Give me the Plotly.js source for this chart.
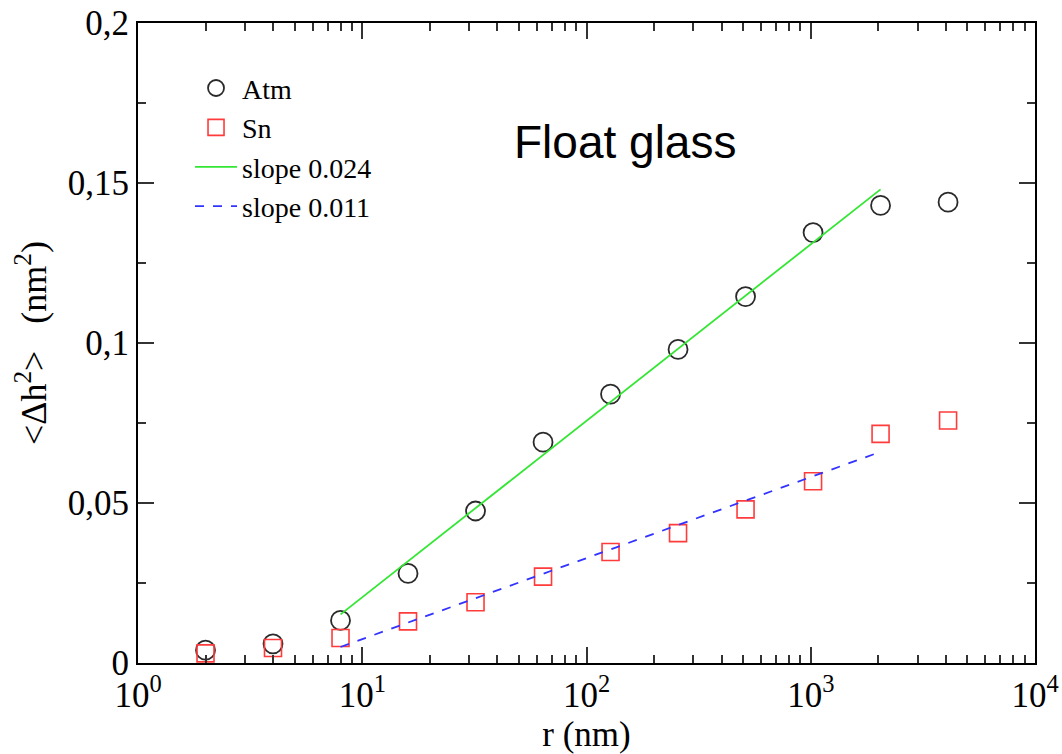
<!DOCTYPE html>
<html>
<head>
<meta charset="utf-8">
<script src="https://cdn.plot.ly/plotly-3.0.1.min.js"></script>
<style>html,body{margin:0;padding:0;background:#fff;}#chart{width:1062px;height:754px;}</style>
</head>
<body>
<div id="chart"></div>
<script>
// Data
const rValues = [2, 4, 8, 16, 32, 64, 128, 256, 512, 1024, 2048, 4096];
const atmValues = [0.004, 0.006, 0.0133, 0.028, 0.0475, 0.069, 0.084, 0.098, 0.1145, 0.1345, 0.143, 0.144];
const snValues = [0.003, 0.0047, 0.0078, 0.013, 0.019, 0.027, 0.0347, 0.0406, 0.048, 0.0568, 0.0716, 0.0758];
const fitR = [8, 2048];
const fitAtm = [0.0152, 0.148];
const fitSn = [0.005, 0.066];
const xTickVals = [1, 10, 100, 1000, 10000];
const xTickText = ['10<sup>0</sup>', '10<sup>1</sup>', '10<sup>2</sup>', '10<sup>3</sup>', '10<sup>4</sup>'];
const yTickVals = [0, 0.05, 0.1, 0.15, 0.2];
const yTickText = ['0', '0,05', '0,1', '0,15', '0,2'];

const xMinor = [];
for (let d = 1; d < 10000; d *= 10) { for (let k = 2; k <= 9; k++) xMinor.push(d * k); }
const yMinor = [0.025, 0.075, 0.125, 0.175];

const serif = 'Liberation Serif, Times New Roman, serif';

const traces = [
  { x: rValues, y: atmValues, mode: 'markers', name: 'Atm',
    marker: { symbol: 'circle-open', size: 19, color: '#2a2a2a', line: { width: 1.8, color: '#2a2a2a' } } },
  { x: rValues, y: snValues, mode: 'markers', name: 'Sn',
    marker: { symbol: 'square-open', size: 17, color: '#ff3b3b', line: { width: 1.6, color: '#ff3b3b' } } },
  { x: fitR, y: fitAtm, mode: 'lines', name: 'slope 0.024',
    line: { color: '#33e633', width: 1.8 } },
  { x: fitR, y: fitSn, mode: 'lines', name: 'slope 0.011',
    line: { color: '#3333ff', width: 1.8, dash: 'dash' } }
];

const axisCommon = {
  showline: true, linecolor: '#000', linewidth: 2, mirror: 'allticks',
  ticks: 'inside', ticklen: 16, tickwidth: 2, tickcolor: '#333',
  showgrid: false, zeroline: false,
  tickfont: { family: serif, size: 35, color: '#000' }
};

const layout = {
  width: 1062, height: 754,
  margin: { l: 138, r: 27, t: 23, b: 91 },
  paper_bgcolor: '#fff', plot_bgcolor: '#fff',
  showlegend: true,
  legend: { x: 0.058, y: 0.937, xanchor: 'left', yanchor: 'top', bgcolor: 'rgba(0,0,0,0)',
    font: { family: serif, size: 28, color: '#000' }, tracegroupgap: 0, itemwidth: 42 },
  xaxis: Object.assign({}, axisCommon, {
    type: 'log', range: [0, 4], tickmode: 'array', tickvals: xTickVals, ticktext: xTickText,
    minor: { tickmode: 'array', tickvals: xMinor, ticks: 'inside', ticklen: 8, tickwidth: 2, tickcolor: '#333', showgrid: false },
    title: { text: 'r (nm)', font: { family: serif, size: 35, color: '#000' }, standoff: 0 }
  }),
  yaxis: Object.assign({}, axisCommon, {
    range: [0, 0.2], tickmode: 'array', tickvals: yTickVals, ticktext: yTickText,
    minor: { tickmode: 'array', tickvals: yMinor, ticks: 'inside', ticklen: 8, tickwidth: 2, tickcolor: '#333', showgrid: false },
    title: { text: '&lt;Δh<sup>2</sup>&gt;&nbsp;&nbsp;&nbsp;(nm<sup>2</sup>)', font: { family: serif, size: 36, color: '#000' }, standoff: 10 }
  }),
  annotations: [
    { text: 'Float glass', xref: 'paper', yref: 'paper', x: 0.543, y: 0.814, xanchor: 'center', yanchor: 'middle',
      showarrow: false, font: { family: 'Liberation Sans, Arial, sans-serif', size: 46, color: '#000' } }
  ]
};

Plotly.newPlot('chart', traces, layout, { displayModeBar: false, staticPlot: true });
</script>
</body>
</html>
